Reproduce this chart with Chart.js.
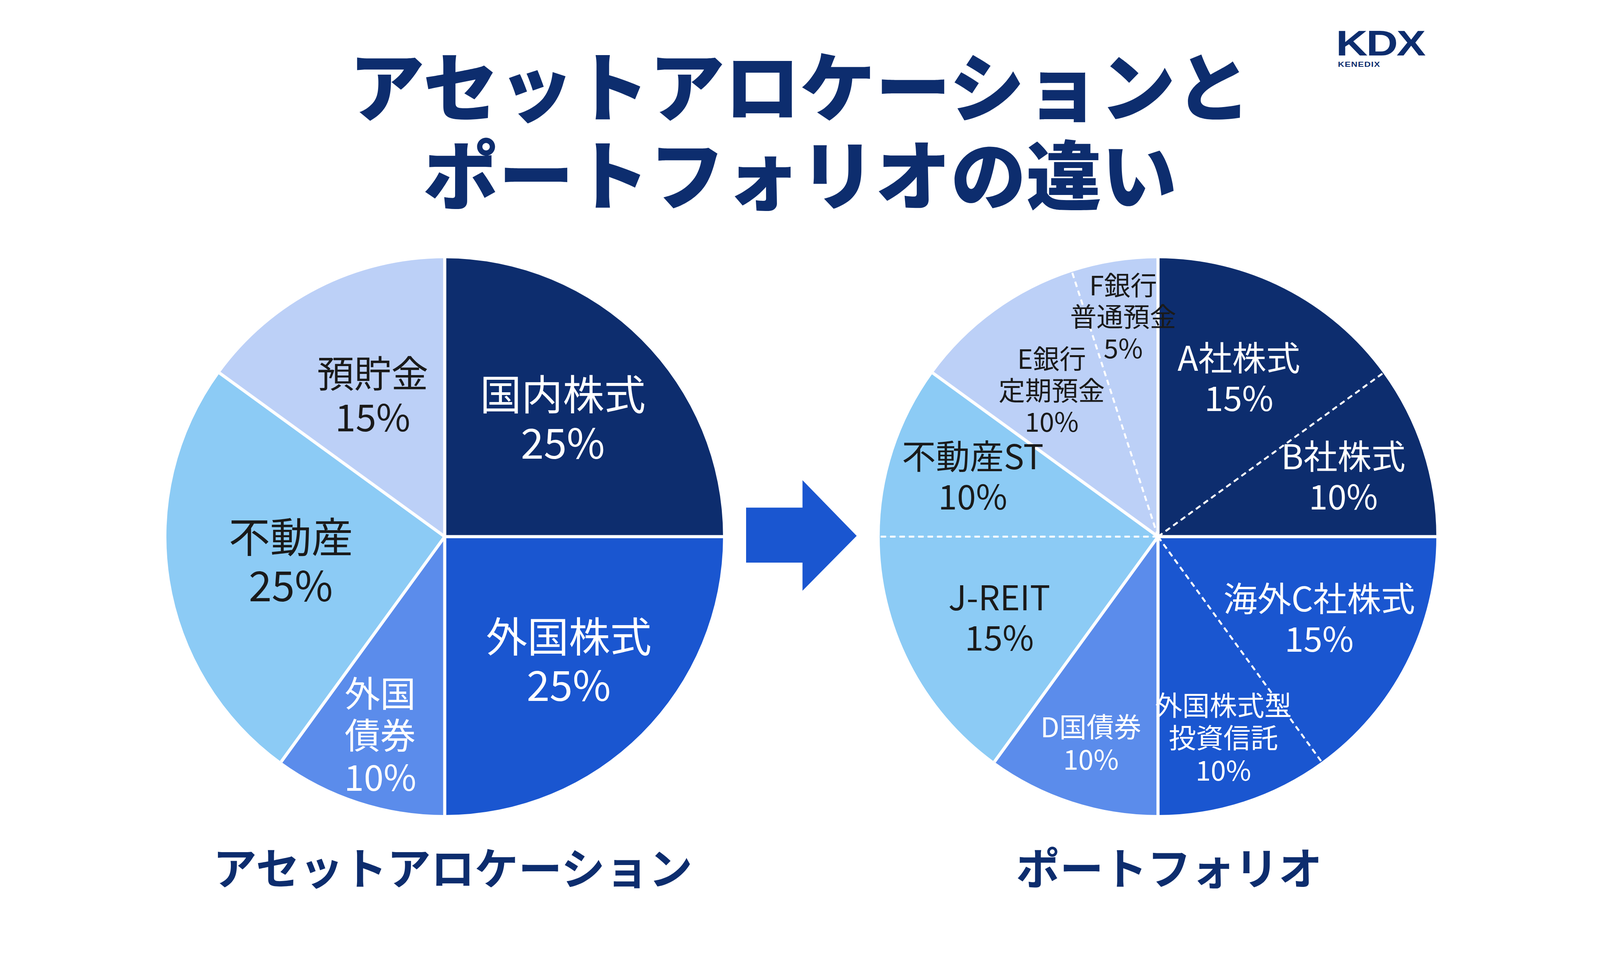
<!DOCTYPE html>
<html>
<head>
<meta charset="utf-8">
<script src="https://cdn.jsdelivr.net/npm/chart.js@4"></script>
<style>
  body { margin: 0; width: 4296px; height: 2475px; background: #fff; position: relative; overflow: hidden;
         font-family: "Noto Sans CJK JP", "Noto Sans", sans-serif; }
  .title { position: absolute; left: -100px; width: 4296px; text-align: center; color: #0d2d6e;
           font-weight: 900; font-size: 193px; line-height: 1; }
  .sub { position: absolute; color: #0d2d6e; font-weight: 700; font-size: 112px; line-height: 1; transform: translateX(-50%); white-space: nowrap; }
  .pie { position: absolute; width: 1425px; height: 1425px; }
  .logo { position: absolute; left: 3420px; top: 66px; color: #0d2d6e; font-family: "Liberation Sans", sans-serif; font-weight: 900; font-size: 90px; line-height: 1; letter-spacing: -3px; transform: scaleX(1.25); transform-origin: 0 0; }
  .logo small { display: block; font-size: 18px; letter-spacing: 1px; margin-left: 4px; font-weight: 700; }
</style>
</head>
<body>
<div class="title" style="top:116px">アセットアロケーションと</div>
<div class="title" style="top:342px">ポートフォリオの違い</div>
<div class="logo">KDX<small>KENEDIX</small></div>

<div class="pie" style="left:426px;top:661px"><canvas id="left"></canvas></div>
<div class="pie" style="left:2252px;top:661px"><canvas id="right"></canvas></div>

<svg style="position:absolute;left:1910px;top:1229px" width="285" height="285" viewBox="0 0 300 300">
  <polygon points="0,74 152,74 152,0 298,150 152,298 152,222 0,222" fill="#1a56d0"/>
</svg>

<div class="sub" style="left:1159px;top:2160px">アセットアロケーション</div>
<div class="sub" style="left:2993px;top:2160px">ポートフォリオ</div>

<script>
// Left pie: asset allocation
const leftLabels = [['国内株式', '25%'], ['外国株式', '25%'], ['外国', '債券', '10%'], ['不動産', '25%'], ['預貯金', '15%']];
const leftValues = [25, 25, 10, 25, 15];
const leftColors = ['#0d2d6e', '#1a56d0', '#5b8ceb', '#8ccbf5', '#bcd0f7'];
const leftText = ['#fff', '#fff', '#fff', '#1a1a1a', '#1a1a1a'];
const leftFont = [106, 106, 91, 106, 95];
const leftPos = [0.60, 0.63, 0.75, 0.56, 0.57];
const leftGroup = [0, 1, 2, 3, 4];

// Right pie: portfolio
const rightLabels = [['A社株式', '15%'], ['B社株式', '10%'], ['海外C社株式', '15%'], ['外国株式型', '投資信託', '10%'],
  ['D国債券', '10%'], ['J-REIT', '15%'], ['不動産ST', '10%'], ['E銀行', '定期預金', '10%'], ['F銀行', '普通預金', '5%']];
const rightValues = [15, 10, 15, 10, 10, 15, 10, 10, 5];
const rightColors = ['#0d2d6e', '#0d2d6e', '#1a56d0', '#1a56d0', '#5b8ceb', '#8ccbf5', '#8ccbf5', '#bcd0f7', '#bcd0f7'];
const rightText = ['#fff', '#fff', '#fff', '#fff', '#fff', '#1a1a1a', '#1a1a1a', '#1a1a1a', '#1a1a1a'];
const rightFont = [87, 87, 87, 70, 70, 87, 87, 68, 68];
const rightPos = [0.64, 0.70, 0.65, 0.76, 0.78, 0.64, 0.70, 0.65, 0.80];
const rightGroup = [0, 0, 1, 1, 2, 3, 3, 4, 4];

const piePlugin = {
    id: 'pieDeco',
    afterDatasetsDraw(chart, args, opts) {
        const ctx = chart.ctx;
        const arcs = chart.getDatasetMeta(0).data;
        ctx.save();
        // separators: solid between groups, dashed inside a group
        arcs.forEach((arc, i) => {
            const prev = (i + arcs.length - 1) % arcs.length;
            const dashed = opts.group[i] === opts.group[prev];
            ctx.beginPath();
            ctx.strokeStyle = '#fff';
            ctx.lineWidth = dashed ? 5 : 8;
            ctx.setLineDash(dashed ? [14, 10] : []);
            ctx.moveTo(arc.x, arc.y);
            ctx.lineTo(arc.x + Math.cos(arc.startAngle) * arc.outerRadius, arc.y + Math.sin(arc.startAngle) * arc.outerRadius);
            ctx.stroke();
        });
        ctx.setLineDash([]);
        // labels
        arcs.forEach((arc, i) => {
            const mid = (arc.startAngle + arc.endAngle) / 2;
            const r = arc.outerRadius * opts.pos[i];
            const cx = arc.x + Math.cos(mid) * r;
            const cy = arc.y + Math.sin(mid) * r;
            const lines = opts.labels[i];
            const size = opts.font[i];
            const lh = size * 1.18;
            ctx.font = '400 ' + size + 'px "Noto Sans CJK JP"';
            ctx.fillStyle = opts.text[i];
            ctx.textAlign = 'center';
            ctx.textBaseline = 'middle';
            lines.forEach((t, j) => {
                ctx.fillText(t, cx, cy + (j - (lines.length - 1) / 2) * lh);
            });
        });
        ctx.restore();
    }
};

function makePie(id, values, colors, labels, text, font, pos, group) {
    return new Chart(document.getElementById(id), {
        type: 'pie',
        data: { labels: labels.map(l => l.join('')), datasets: [{ data: values, backgroundColor: colors, borderWidth: 0 }] },
        options: {
            responsive: true, maintainAspectRatio: false, animation: false,
            layout: { padding: 0 },
            plugins: {
                legend: { display: false }, tooltip: { enabled: false },
                pieDeco: { labels, text, font, pos, group }
            }
        },
        plugins: [piePlugin]
    });
}

makePie('left', leftValues, leftColors, leftLabels, leftText, leftFont, leftPos, leftGroup);
makePie('right', rightValues, rightColors, rightLabels, rightText, rightFont, rightPos, rightGroup);
</script>
</body>
</html>
